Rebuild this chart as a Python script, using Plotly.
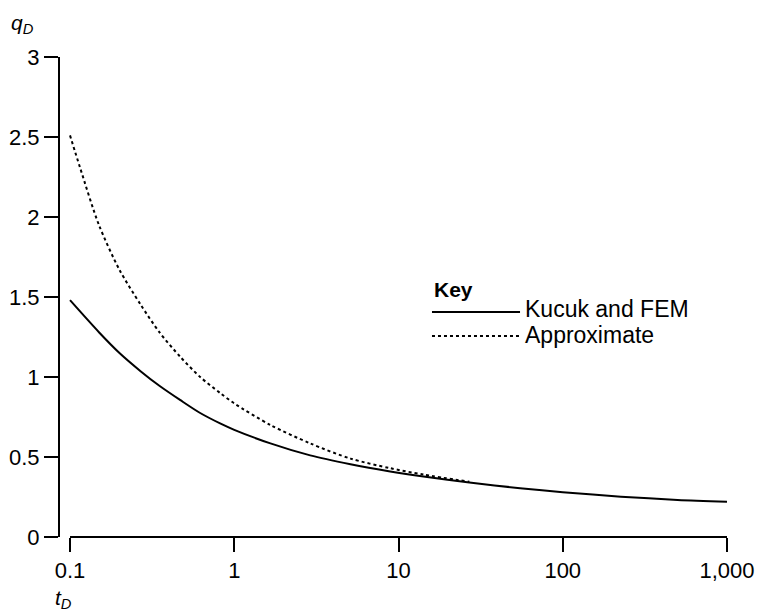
import plotly.graph_objects as go

# Data
t_kucuk = [0.1, 0.15, 0.2, 0.27, 0.35, 0.47, 0.62, 0.82, 1.0, 1.66, 2.9, 5.1, 8.9, 14.2, 27, 55, 100, 226, 500, 1000]
q_kucuk = [1.48, 1.28, 1.15, 1.035, 0.945, 0.855, 0.775, 0.71, 0.67, 0.585, 0.51, 0.455, 0.41, 0.378, 0.34, 0.305, 0.28, 0.252, 0.232, 0.22]

t_approx = [0.1, 0.115, 0.15, 0.2, 0.27, 0.35, 0.47, 0.62, 0.82, 1.0, 1.66, 2.9, 5.1, 8.9, 14.2, 27]
q_approx = [2.51, 2.31, 1.95, 1.67, 1.45, 1.28, 1.125, 1.0, 0.9, 0.835, 0.70, 0.585, 0.49, 0.43, 0.39, 0.345]

x_tickvals = [0.1, 1, 10, 100, 1000]
x_ticktext = ["0.1", "1", "10", "100", "1,000"]
y_tickvals = [0, 0.5, 1, 1.5, 2, 2.5, 3]
y_ticktext = ["0", "0.5", "1", "1.5", "2", "2.5", "3"]

legend_title = "Key"
series_names = ["Kucuk and FEM", "Approximate"]

FONT = "Liberation Sans, Arial, sans-serif"

fig = go.Figure()
fig.add_trace(go.Scatter(x=t_approx, y=q_approx, mode="lines", name=series_names[1],
                         line=dict(color="black", width=2, dash="dot", shape="spline", smoothing=0.8)))
fig.add_trace(go.Scatter(x=t_kucuk, y=q_kucuk, mode="lines", name=series_names[0],
                         line=dict(color="black", width=2, shape="spline", smoothing=0.8)))

fig.update_layout(
    width=761, height=612,
    margin=dict(l=60, r=34, t=57, b=75, autoexpand=False),
    paper_bgcolor="white", plot_bgcolor="white",
    font=dict(family=FONT, size=22, color="black"),
    showlegend=False,
    xaxis=dict(
        type="log", range=[-1.061, 3], showgrid=False, zeroline=False, showline=False,
        tickvals=x_tickvals, ticktext=x_ticktext, ticks="outside", ticklen=14,
        tickwidth=2, tickcolor="black", tickfont=dict(size=22), automargin=False,
    ),
    yaxis=dict(
        range=[0, 3], showgrid=False, zeroline=False, showline=True, linewidth=2,
        linecolor="black", tickvals=y_tickvals, ticktext=y_ticktext, ticks="outside",
        ticklen=14, tickwidth=2, tickcolor="black", tickfont=dict(size=22), automargin=False,
    ),
)

# detached x-axis line from 0.1 to 1000
fig.add_shape(type="line", xref="x", yref="paper", x0=0.1, x1=1000, y0=0, y1=0,
              line=dict(color="black", width=2))

# Key (legend) drawn manually
fig.add_annotation(text="<b>" + legend_title + "</b>", xref="paper", yref="paper",
                   x=0.5577, y=0.5146, xanchor="left", yanchor="middle", showarrow=False,
                   font=dict(size=21))
fig.add_shape(type="line", xref="paper", yref="paper", x0=0.5577, x1=0.6897,
              y0=0.46875, y1=0.46875, line=dict(color="black", width=2))
fig.add_annotation(text=series_names[0], xref="paper", yref="paper",
                   x=0.6942, y=0.475, xanchor="left", yanchor="middle", showarrow=False,
                   font=dict(size=23))
fig.add_shape(type="line", xref="paper", yref="paper", x0=0.5577, x1=0.6897,
              y0=0.41875, y1=0.41875, line=dict(color="black", width=2, dash="dot"))
fig.add_annotation(text=series_names[1], xref="paper", yref="paper",
                   x=0.6942, y=0.4208, xanchor="left", yanchor="middle", showarrow=False,
                   font=dict(size=23))

fig.add_annotation(text="<i>q<sub>D</sub></i>", xref="paper", yref="paper",
                   x=-0.076, y=1.10, xanchor="left", yanchor="top", showarrow=False,
                   font=dict(size=21))
fig.add_annotation(text="<i>t<sub>D</sub></i>", xref="paper", yref="paper",
                   x=-0.01, y=-0.097, xanchor="left", yanchor="top", showarrow=False,
                   font=dict(size=21))

fig.write_html("out.html")
